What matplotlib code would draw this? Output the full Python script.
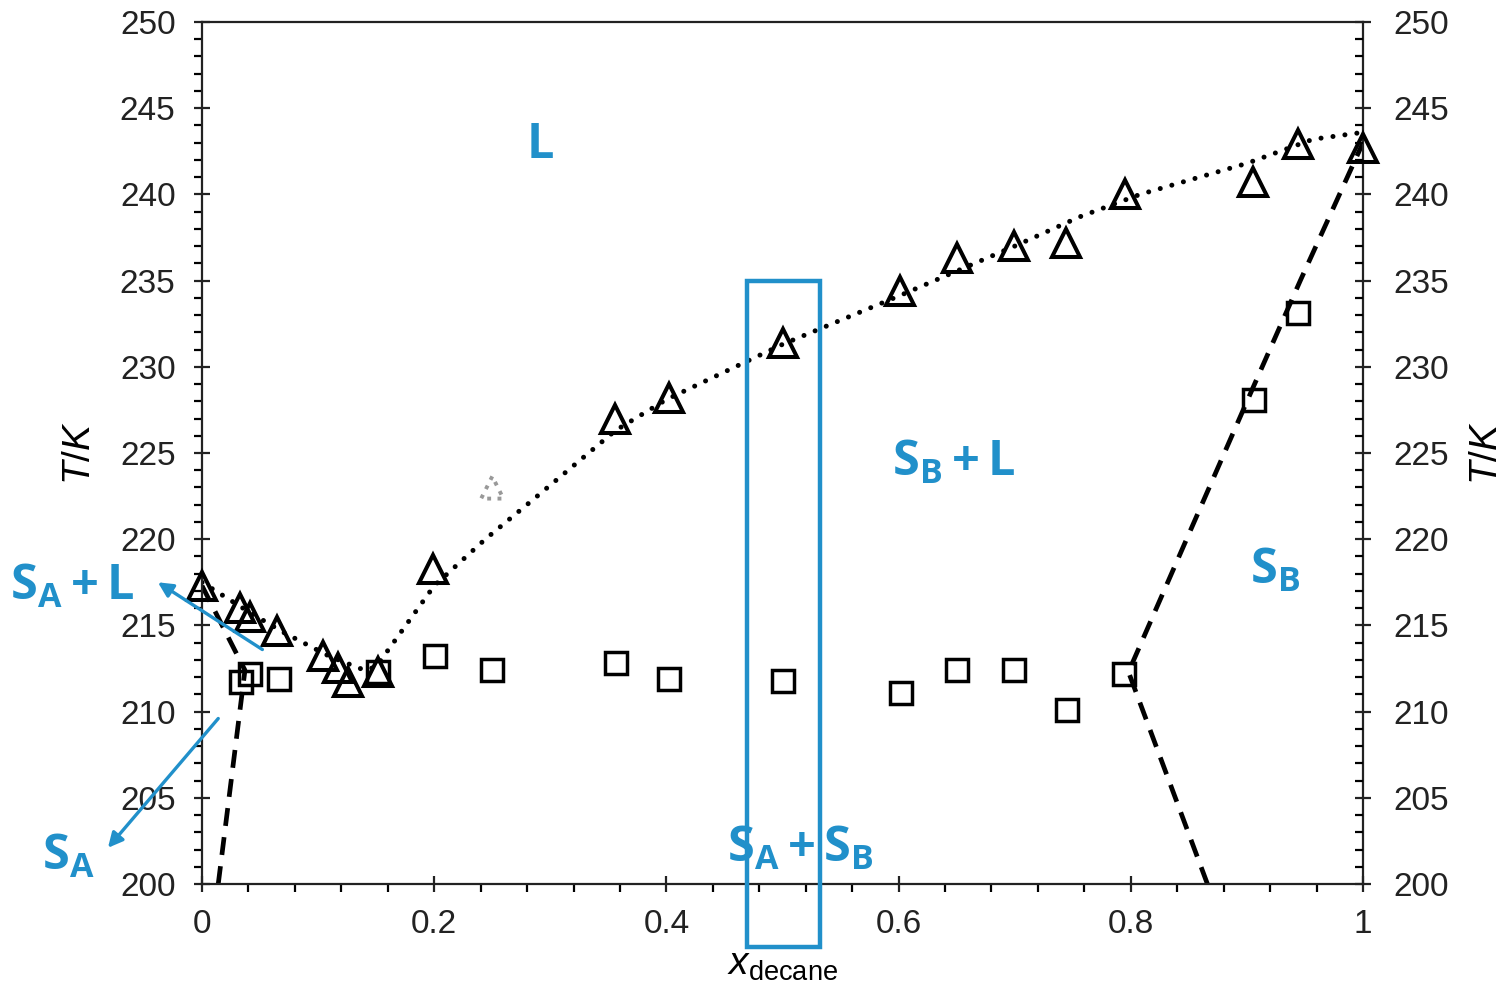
import numpy as np
import matplotlib
matplotlib.use("Agg")
import matplotlib.pyplot as plt
from matplotlib.patches import Rectangle
from matplotlib.ticker import MultipleLocator

# liquidus measurements (triangles)
x_liq = [0.0, 0.033, 0.041, 0.065, 0.104, 0.117, 0.126, 0.152, 0.199, 0.356, 0.402,
         0.500, 0.601, 0.650, 0.699, 0.744, 0.795, 0.905, 0.944, 1.0]
T_liq = [217.3, 216.0, 215.5, 214.7, 213.2, 212.5, 211.7, 212.3, 218.3, 227.0, 228.2,
         231.4, 234.4, 236.3, 237.0, 237.2, 240.0, 240.7, 242.9, 242.7]

# solidus / eutectic measurements (squares)
x_sol = [0.034, 0.041, 0.066, 0.152, 0.201, 0.250, 0.357, 0.402, 0.500, 0.602,
         0.650, 0.699, 0.745, 0.794, 0.906, 0.944]
T_sol = [211.7, 212.2, 211.9, 212.3, 213.2, 212.4, 212.8, 211.9, 211.8, 211.1,
         212.4, 212.4, 210.1, 212.2, 228.1, 233.1]

# outlier point (grey dotted triangle)
x_out = [0.25]
T_out = [223.0]

# guide lines
x_guide_liq = [0.0, 0.04, 0.07, 0.11, 0.14, 0.15, 0.2, 0.244, 0.287, 0.356, 0.4,
               0.5, 0.6, 0.7, 0.756, 0.808, 0.9, 0.957, 1.0]
T_guide_liq = [217.5, 215.8, 214.6, 213.2, 212.4, 212.6, 217.3, 220.0, 222.4, 226.3, 228.1,
               231.3, 234.1, 237.0, 238.7, 240.0, 241.8, 243.2, 243.6]
x_guide_A = [0.014, 0.037, 0.0]
T_guide_A = [200.0, 212.4, 217.3]
x_guide_B = [0.866, 0.798, 0.85, 0.904, 0.946, 1.0]
T_guide_B = [200.0, 212.3, 220.3, 228.6, 235.0, 243.0]

blue = "#2190CA"
plt.rcParams['font.family'] = ['Liberation Sans', 'DejaVu Sans']
plt.rcParams['mathtext.fontset'] = 'custom'
plt.rcParams['mathtext.bf'] = 'Open Sans:bold'
plt.rcParams['mathtext.rm'] = 'Liberation Sans'
plt.rcParams['mathtext.it'] = 'Liberation Sans:italic'

fig = plt.figure(figsize=(15.03, 9.90), dpi=100)
ax = fig.add_axes([202/1503, 106/990, 1161/1503, 862/990])
ax2 = ax.twinx()

ax.plot(x_guide_liq, T_guide_liq, color='black', lw=3.6, dashes=[0.01, 2.4],
        dash_capstyle='round', zorder=2)
ax.plot(x_guide_A, T_guide_A, color='black', lw=3.4, dashes=[3.8, 2.4], zorder=2)
ax.plot(x_guide_B, T_guide_B, color='black', lw=3.4, dashes=[3.8, 2.4], zorder=2)

ax.plot(x_liq, T_liq, ls='none', marker='^', ms=19.5, mfc='none', mec='black', mew=2.9,
        clip_on=False, zorder=3)
ax.plot(x_sol, T_sol, ls='none', marker='s', ms=16, mfc='none', mec='black', mew=2.5,
        clip_on=False, zorder=3)
ax.scatter(x_out, T_out, marker='^', s=16**2, facecolors='none', edgecolors='#999999',
           linewidths=2.8, linestyles=':', zorder=3)

for a in (ax, ax2):
    a.set_ylim(200, 250)
    a.yaxis.set_major_locator(MultipleLocator(5))
    a.yaxis.set_minor_locator(MultipleLocator(1))
ax.set_xlim(0, 1)
ax.xaxis.set_minor_locator(MultipleLocator(0.04))
ax.set_xticks([0, 0.2, 0.4, 0.6, 0.8, 1.0])
ax.set_xticklabels(['0', '0.2', '0.4', '0.6', '0.8', '1'])

for s in ax.spines.values():
    s.set_linewidth(1.6)
    s.set_color('#222222')
for s in ax2.spines.values():
    s.set_visible(False)

ax.tick_params(axis='x', which='major', direction='inout', length=12, width=1.6,
               labelsize=24, pad=12, colors='#222222')
ax.tick_params(axis='x', which='minor', direction='out', length=6, width=1.6)
ax.tick_params(axis='y', which='major', direction='inout', length=12, width=1.6,
               labelsize=24, pad=13, colors='#222222', left=True, right=False)
ax.tick_params(axis='y', which='minor', direction='out', length=6, width=1.6,
               left=True, right=False)
ax2.tick_params(axis='y', which='major', direction='inout', length=12, width=1.6,
                labelsize=24, pad=16, colors='#222222')
ax2.tick_params(axis='y', which='minor', direction='in', length=6, width=1.6)

ax.set_ylabel('$\\it{T/K}$', fontsize=28, labelpad=16)
ax2.set_ylabel('$\\it{T/K}$', fontsize=28, labelpad=14)
ax.set_xlabel('$\\it{x}_{\\rm{decane}}$', fontsize=28, labelpad=5)

# phase labels
tk = dict(color=blue, fontsize=35, ha='center', va='baseline')
ax.text(0.291, 242.1, r'$\mathbf{L}$', **tk)
ax.text(0.647, 223.7, r'$\mathbf{S_B + L}$', **tk)
ax.text(0.924, 217.4, r'$\mathbf{S_B}$', **tk)
ax.text(0.515, 201.3, r'$\mathbf{S_A + S_B}$', **tk, zorder=1)
ax.text(-0.112, 216.5, r'$\mathbf{S_A + L}$', clip_on=False, **tk)
ax.text(-0.115, 200.8, r'$\mathbf{S_A}$', clip_on=False, **tk)

arrow = dict(arrowstyle='-|>', color=blue, lw=2.4, mutation_scale=22, shrinkA=0, shrinkB=0)
ax.annotate('', xy=(-0.038, 217.5), xytext=(0.052, 213.6), arrowprops=arrow,
            annotation_clip=False)
ax.annotate('', xy=(-0.081, 202.1), xytext=(0.014, 209.6), arrowprops=arrow,
            annotation_clip=False)

ax.add_patch(Rectangle((0.469, 196.35), 0.063, 38.65, fill=False, ec=blue, lw=3.2,
                       clip_on=False, zorder=4))

fig.savefig('out.png', dpi=100)
